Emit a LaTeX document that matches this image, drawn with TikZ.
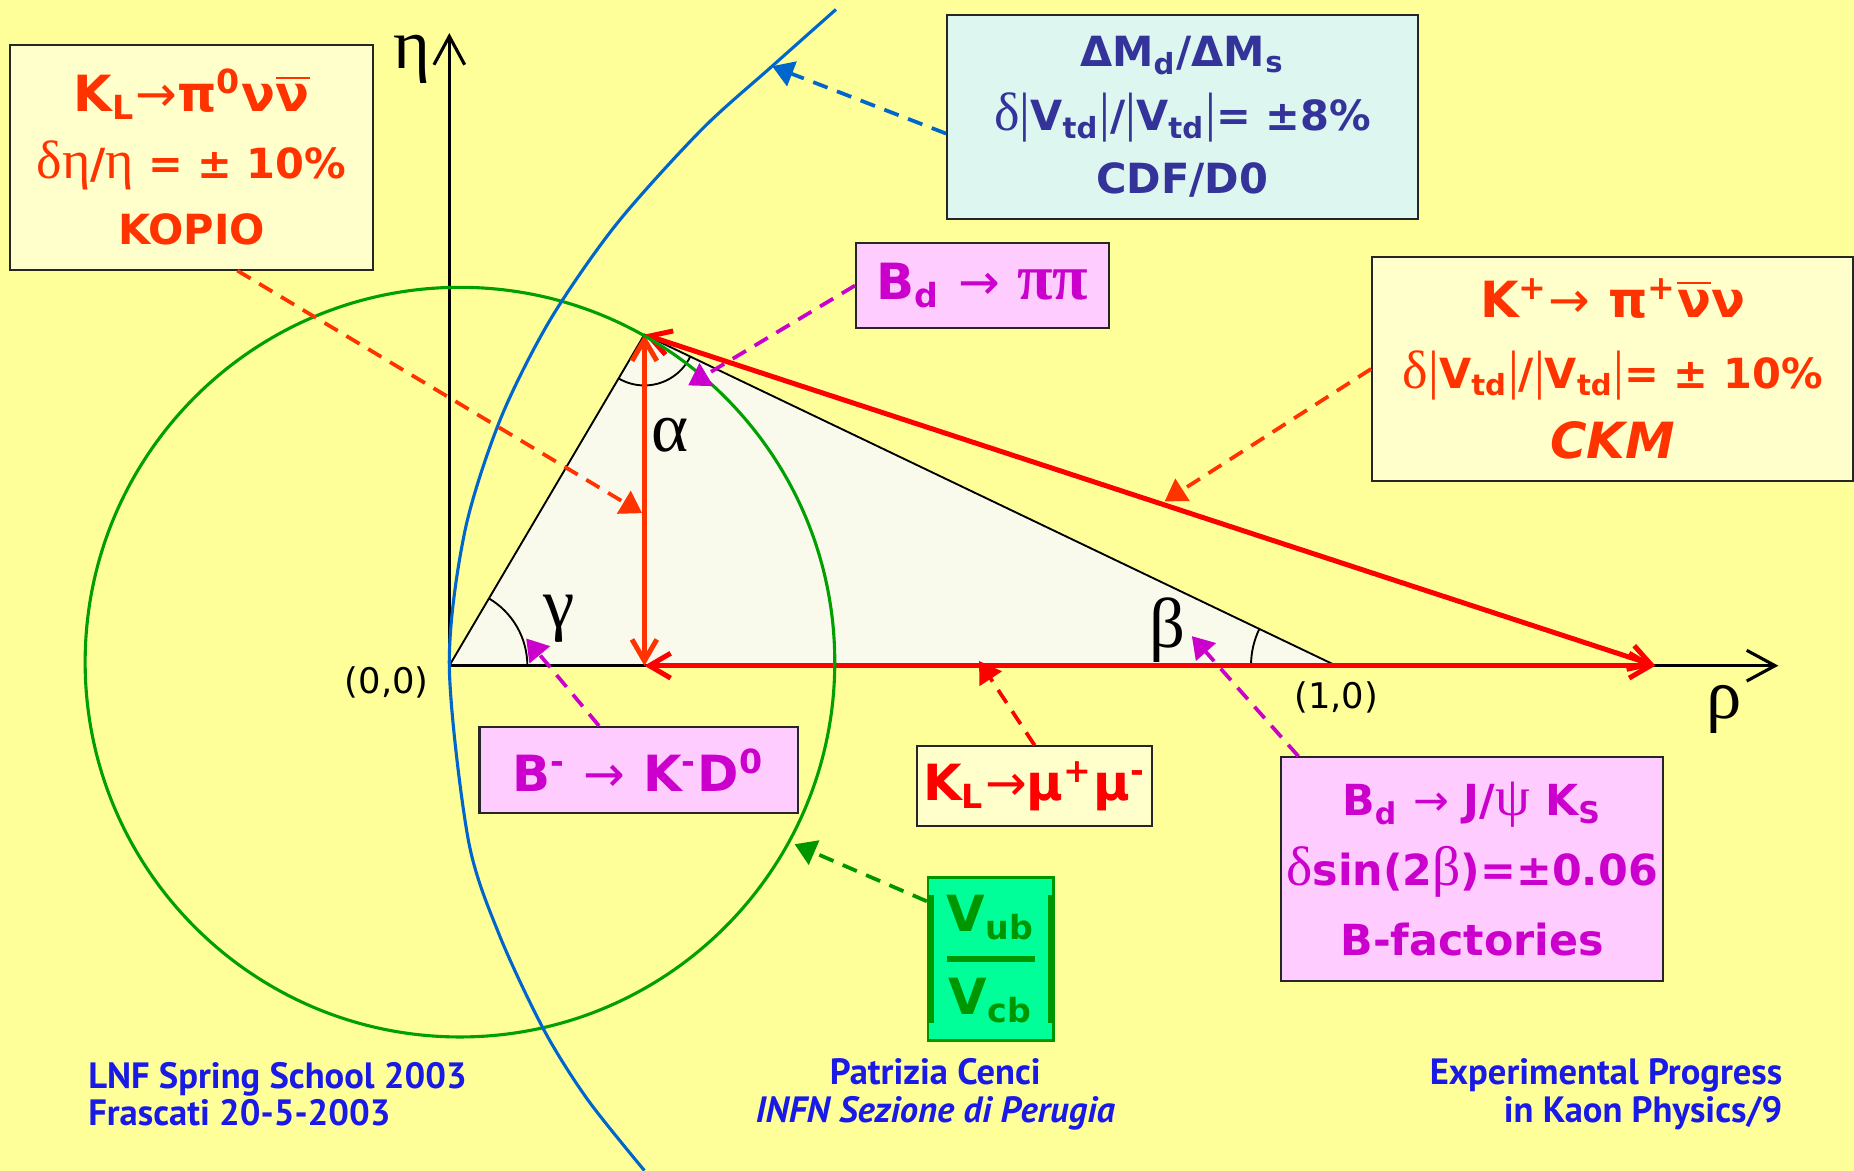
\documentclass[tikz,border=0pt]{standalone}
\usepackage{amsmath}
\usepackage{fontspec}
\setmainfont{DejaVu Sans}
\newfontfamily\grk{Liberation Serif}
\newfontfamily\grkb{Liberation Serif}[Scale=1.3]
\newfontfamily\arw{DejaVu Sans}
\newfontfamily\ftr{PT Sans}
\usetikzlibrary{arrows.meta}
\definecolor{bgyel}{RGB}{255,255,153}
\definecolor{paleyel}{RGB}{255,255,204}
\definecolor{trifill}{RGB}{250,250,236}
\definecolor{kopc}{RGB}{255,51,0}
\definecolor{mumuc}{RGB}{255,0,0}
\definecolor{cdfc}{RGB}{51,51,153}
\definecolor{cdfbg}{RGB}{221,246,240}
\definecolor{bmag}{RGB}{204,0,204}
\definecolor{bpink}{RGB}{255,204,255}
\definecolor{vubc}{RGB}{0,150,0}
\definecolor{vubbg}{RGB}{0,255,153}
\definecolor{circc}{RGB}{0,160,0}
\definecolor{tdc}{RGB}{0,102,204}
\definecolor{footc}{RGB}{26,26,230}
\newcommand\sg[1]{{\grkb\mdseries #1}}
\newcommand\thinto{{\arw\mdseries →}}
\newcommand\nubar{\(\overline{\mbox{ν}}\)}
\newcommand\szA{\fontsize{12}{16}\selectfont}
\newcommand\szB{\fontsize{10}{16}\selectfont}
\tikzset{
  infobox/.style={draw=black!85,line width=0.5pt,inner sep=0pt,align=center,font=\bfseries\szB},
  dasharr/.style={line width=0.9pt,dash pattern=on 1.3mm off 0.85mm,-{Triangle[length=1.8mm,width=2.2mm]}},
  bigarr/.style={line width=1.2pt,{Straight Barb[length=1.8mm,width=2.1mm]}-{Straight Barb[length=1.8mm,width=2.1mm]}},
  axisline/.style={line width=0.75pt,-{Straight Barb[length=2.4mm,width=2.6mm]}},
  greeklab/.style={font=\grk\fontsize{17}{17}\selectfont,inner sep=0pt},
  footer/.style={text=footc,font=\ftr\bfseries\fontsize{8.8}{9}\selectfont,inner sep=0pt}
}
\begin{document}
\begin{tikzpicture}
\fill[bgyel] (0,0) rectangle (15.68,9.90);
\clip (0,0) rectangle (15.68,9.90);
% unitarity triangle
\coordinate (O) at (3.80,4.27);
\coordinate (A) at (5.45,7.07);
\coordinate (B) at (11.30,4.27);
\coordinate (F) at (5.45,4.27);
\coordinate (R) at (14.00,4.27);
\coordinate (etaTop) at (3.80,9.62);
\coordinate (rhoEnd) at (15.04,4.27);
\fill[trifill] (O) -- (A) -- (B) -- cycle;
\draw[line width=0.45pt] (O) -- (A) -- (B);
\draw[line width=0.45pt] (O) ++(0:0.66) arc[start angle=0,end angle=59.5,radius=0.66];
\draw[line width=0.45pt] (A) ++(239.5:0.43) arc[start angle=239.5,end angle=334.4,radius=0.43];
\draw[line width=0.45pt] (B) ++(154.4:0.72) arc[start angle=154.4,end angle=180,radius=0.72];
\draw[axisline] (O) -- (etaTop);
\draw[axisline] (O) -- (rhoEnd);
% measured sides
\draw[bigarr,kopc] (F) -- (A);
\draw[bigarr,mumuc] (F) -- (R);
\draw[bigarr,mumuc] (R) -- (A);
% |Vub| circle and |Vtd| curve
\draw[circc,line width=0.75pt] (3.89,4.30) circle[radius=3.17];
\draw[tdc,line width=0.75pt] plot[smooth] coordinates {(7.07,9.82) (6.53,9.34) (5.93,8.80) (5.21,8.00) (4.65,7.19) (4.23,6.35) (3.93,5.40) (3.80,4.27) (3.96,2.80) (4.22,2.00) (4.60,1.19) (4.97,0.60) (5.45,0)};
% labels
\node[greeklab] (etaLab) at (3.48,9.40) {η};
\node[greeklab] (rhoLab) at (14.58,3.90) {ρ};
\node[greeklab] (alphaLab) at (5.67,6.22) {α};
\node[greeklab] (betaLab) at (9.87,4.57) {β};
\node[greeklab] (gammaLab) at (4.73,4.67) {γ};
\node[font=\fontsize{8.5}{10}\selectfont] (orig) at (3.27,4.13) {(0,0)};
\node[font=\fontsize{8.5}{10}\selectfont] (onezero) at (11.30,4.00) {(1,0)};
% boxes
\node[infobox,fill=paleyel,text=kopc,minimum width=3.07cm,minimum height=1.90cm] (kopio) at (1.62,8.57)
  {{\szA K\textsubscript{L}\thinto π\textsuperscript{0}ν\nubar}\\ \sg{δη}/\sg{η} = ± 10\%\\ KOPIO};
\node[infobox,fill=cdfbg,text=cdfc,minimum width=3.98cm,minimum height=1.73cm,font=\bfseries\fontsize{10}{15.3}\selectfont] (cdf) at (10.00,8.91)
  {ΔM\textsubscript{d}/ΔM\textsubscript{s}\\ \sg{δ|}V\textsubscript{td}\sg{|}/\sg{|}V\textsubscript{td}\sg{|}= ±8\%\\ CDF/D0};
\node[infobox,fill=paleyel,text=kopc,minimum width=4.07cm,minimum height=1.89cm,font=\bfseries\fontsize{10}{17}\selectfont] (ckm) at (13.64,6.78)
  {{\szA K\textsuperscript{+}\thinto\ π\textsuperscript{+}\nubar ν}\\ \sg{δ|}V\textsubscript{td}\sg{|}/\sg{|}V\textsubscript{td}\sg{|}= ± 10\%\\ {\szA\itshape CKM}};
\node[infobox,fill=bpink,text=bmag,minimum width=2.14cm,minimum height=0.725cm,font=\bfseries\szA] (bpp) at (8.31,7.485)
  {B\textsubscript{d} \thinto\ {\grkb ππ}};
\node[infobox,fill=bpink,text=bmag,minimum width=2.69cm,minimum height=0.724cm,font=\bfseries\szA] (bkd) at (5.40,3.39)
  {B\textsuperscript{-} \thinto\ K\textsuperscript{-}D\textsuperscript{0}};
\node[infobox,fill=paleyel,text=mumuc,minimum width=1.99cm,minimum height=0.676cm,font=\bfseries\szA] (kmm) at (8.75,3.25)
  {K\textsubscript{L}\thinto μ\textsuperscript{+}μ\textsuperscript{-}};
\node[infobox,fill=bpink,text=bmag,minimum width=3.23cm,minimum height=1.89cm,font=\bfseries\fontsize{10.3}{16.8}\selectfont] (bjk) at (12.45,2.55)
  {B\textsubscript{d} \thinto\ J/\sg{ψ} K\textsubscript{S}\\ \sg{δ}sin(2\sg{β})=±0.06\\ B-factories};
\node[draw=vubc,fill=vubbg,line width=0.6pt,text=vubc,inner sep=0pt,minimum width=0.985cm,minimum height=1.38cm,font=\bfseries\szA] (vub) at (8.38,1.79)
  {\vrule width 1.3pt\,\(\genfrac{}{}{1.3pt}{0}{\text{V}_{\text{ub}}}{\text{V}_{\text{cb}}}\)\,\vrule width 1.3pt};
% pointers
\coordinate (kopTip) at (5.43,5.56);
\coordinate (tdTip) at (6.53,9.34);
\coordinate (alTip) at (5.82,6.64);
\coordinate (ckmTip) at (9.85,5.66);
\coordinate (gaTip) at (4.45,4.50);
\coordinate (mmTip) at (8.28,4.31);
\coordinate (beTip) at (10.08,4.52);
\coordinate (vubTip) at (6.72,2.76);
\draw[dasharr,kopc] (kopio.-68) -- (kopTip);
\draw[dasharr,tdc] (cdf.184) -- (tdTip);
\draw[dasharr,bmag] (bpp.west) -- (alTip);
\draw[dasharr,kopc] (ckm.west) -- (ckmTip);
\draw[dasharr,bmag] (bkd.132) -- (gaTip);
\draw[dasharr,mumuc] (kmm.north) -- (mmTip);
\draw[dasharr,bmag] (bjk.147) -- (beTip);
\draw[dasharr,vubc] (vub.138) -- (vubTip);
% footer
\node[footer,anchor=west,align=left] (footL) at (0.74,0.645) {LNF Spring School 2003\\ Frascati 20-5-2003};
\node[footer,align=center] (footC) at (7.91,0.645) {Patrizia Cenci\\ \itshape INFN Sezione di Perugia};
\node[footer,anchor=east,align=right] (footR) at (15.08,0.645) {Experimental Progress\\ in Kaon Physics/9};
\end{tikzpicture}
\end{document}
